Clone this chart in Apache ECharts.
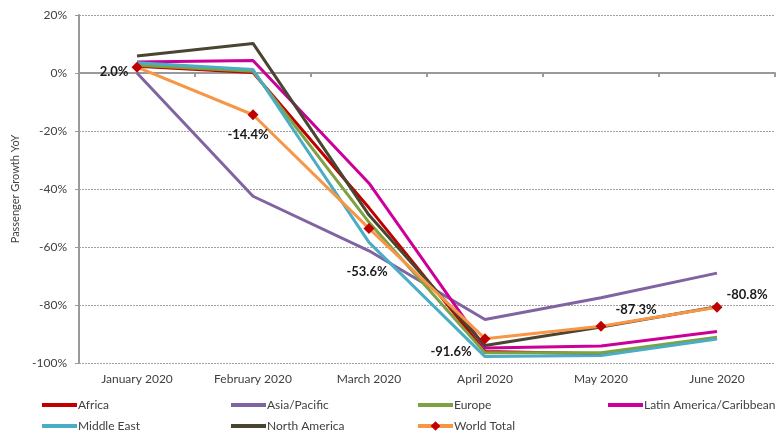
<!DOCTYPE html>
<html>
<head>
<meta charset="utf-8">
<script src="https://cdn.jsdelivr.net/npm/echarts@6/dist/echarts.min.js"></script>
<style>
  html, body { margin: 0; padding: 0; background: #fff; }
  #main { width: 777px; height: 437px; }
</style>
</head>
<body>
<div id="main"></div>
<script>
// months on the x axis
var months = ['January 2020', 'February 2020', 'March 2020', 'April 2020', 'May 2020', 'June 2020'];

// passenger growth YoY, %
var africa       = [2.3, 0.2, -46.5, -96.0, -96.8, -91.4];
var asiaPacific  = [0.0, -42.5, -61.3, -85.0, -77.5, -69.0];
var europe       = [2.7, 0.6, -51.5, -96.5, -96.5, -91.1];
var latinAmerica = [3.8, 4.3, -38.0, -94.8, -94.1, -89.1];
var middleEast   = [3.5, 1.2, -58.4, -97.8, -97.4, -91.7];
var northAmerica = [5.9, 10.2, -49.0, -94.0, -87.6, -80.6];
var worldTotal   = [2.0, -14.4, -53.6, -91.6, -87.3, -80.8];

var yTicks = [20, 0, -20, -40, -60, -80, -100];

var font = 'Lato';
var textColor = '#404040';

function lineSeries(name, values, color) {
    return {
        name: name,
        type: 'line',
        data: values,
        symbol: 'none',
        lineStyle: { color: color, width: 3 },
        itemStyle: { color: color },
        z: 2
    };
}

// where each world total label sits around its marker
var labelPos = [
    { position: 'left', offset: [2, 5] },
    { position: 'bottom', offset: [-5, 3] },
    { position: 'bottom', offset: [-2, 26] },
    { position: 'bottom', offset: [-34, -4] },
    { position: 'top', offset: [35, 1] },
    { position: 'top', offset: [30, 4] }
];

var worldData = worldTotal.map(function (v, i) {
    return { value: v, label: labelPos[i] };
});

var series = [
    lineSeries('Africa', africa, '#C00000'),
    lineSeries('Asia/Pacific', asiaPacific, '#8064A2'),
    lineSeries('Europe', europe, '#7EA142'),
    lineSeries('Latin America/Caribbean', latinAmerica, '#CC0099'),
    lineSeries('Middle East', middleEast, '#4BACC6'),
    lineSeries('North America', northAmerica, '#4A4530'),
    {
        name: 'World Total',
        type: 'line',
        data: worldData,
        symbol: 'diamond',
        symbolSize: 11,
        showAllSymbol: true,
        lineStyle: { color: '#F79646', width: 3 },
        itemStyle: { color: '#C00000' },
        label: {
            show: true,
            fontFamily: font,
            fontWeight: 'bold',
            fontSize: 13,
            color: '#1a1a1a',
            formatter: function (p) { return p.value.toFixed(1) + '%'; }
        },
        z: 3
    }
];

// plain lines get no marker in the legend, world total keeps its diamond
function legendItem(name) {
    if (name === 'World Total') {
        return { name: name };
    }
    return { name: name, itemStyle: { opacity: 0 } };
}

function legendCol(left, names) {
    return {
        left: left,
        top: 399,
        orient: 'vertical',
        itemGap: 9,
        itemWidth: 35,
        itemHeight: 12,
        padding: 0,
        data: names.map(legendItem),
        textStyle: { fontFamily: font, fontSize: 12, color: textColor, padding: [0, 0, 0, -4] },
        lineStyle: { width: 4 }
    };
}

var myChart = echarts.init(document.getElementById('main'));

var option = {
    animation: false,
    backgroundColor: '#fff',
    grid: { left: 79, right: 2, top: 15, bottom: 74 },
    legend: [
        legendCol(40, ['Africa', 'Middle East']),
        legendCol(229, ['Asia/Pacific', 'North America']),
        legendCol(416, ['Europe', 'World Total']),
        legendCol(606, ['Latin America/Caribbean'])
    ],
    xAxis: [
        {
            type: 'category',
            data: months,
            position: 'bottom',
            axisLine: { show: false },
            axisTick: { show: false },
            axisLabel: { fontFamily: font, fontSize: 12, color: textColor, margin: 10 },
            splitLine: { show: false }
        },
        {
            type: 'category',
            data: months,
            position: 'bottom',
            axisLine: { show: true, onZero: true, onZeroAxisIndex: 0, lineStyle: { color: '#999', width: 2 } },
            axisTick: { show: true, length: 4, lineStyle: { color: '#999', width: 2 } },
            axisLabel: { show: false },
            splitLine: { show: false }
        }
    ],
    yAxis: {
        type: 'value',
        min: -100,
        max: 20,
        interval: 20,
        name: 'Passenger Growth YoY',
        nameLocation: 'middle',
        nameGap: 58,
        nameTextStyle: { fontFamily: font, fontSize: 11, color: textColor },
        axisLine: { show: true, lineStyle: { color: '#999', width: 2 } },
        axisTick: { show: true, length: 4, lineStyle: { color: '#999', width: 1 } },
        axisLabel: {
            fontFamily: font, fontSize: 12, color: textColor, margin: 12,
            formatter: function (v) { return yTicks.indexOf(v) >= 0 ? v + '%' : ''; }
        },
        splitLine: { show: true, lineStyle: { color: '#A0A0A0', type: [2, 1], width: 1 } }
    },
    series: series
};

myChart.setOption(option);
</script>
</body>
</html>
